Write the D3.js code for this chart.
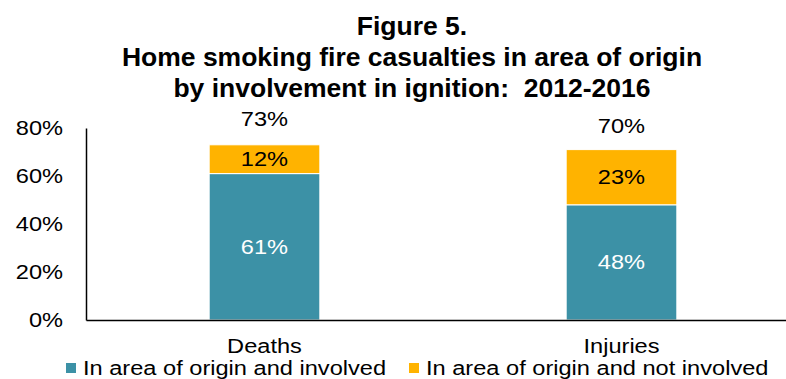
<!DOCTYPE html>
<html>
<head>
<meta charset="utf-8">
<script src="https://cdn.jsdelivr.net/npm/d3@7"></script>
<style>
html,body{margin:0;padding:0;background:#fff;}
svg{display:block;font-family:"Liberation Sans",Arial,sans-serif;}
</style>
</head>
<body>
<svg id="chart" width="786" height="379"></svg>
<script>
const categories = ["Deaths", "Injuries"];
const seriesNames = ["In area of origin and involved", "In area of origin and not involved"];
const involved = [61, 48];
const notInvolved = [12, 23];
const totals = [73, 70];
const yTicks = [0, 20, 40, 60, 80];
const titleLines = ["Figure 5.", "Home smoking fire casualties in area of origin", "by involvement in ignition:  2012-2016"];
const colors = ["#3C91A6", "#FFB300"];

const svg = d3.select("#chart");
const STRETCH = 1.18;
function stretch(sel, f) {
  sel.each(function() {
    const w = this.getComputedTextLength();
    d3.select(this).attr("textLength", w * f).attr("lengthAdjust", "spacingAndGlyphs");
  });
}

const x = d3.scaleBand().domain(categories).range([86, 800]).paddingInner(0.69).paddingOuter(0.345);
const y = d3.scaleLinear().domain([0, 80]).range([320, 128]);

// title
const title = svg.append("text").attr("text-anchor", "middle").attr("font-weight", "bold")
  .attr("font-size", 26.5).attr("fill", "#000").style("white-space", "pre");
titleLines.forEach((t, i) => {
  title.append("tspan").attr("x", 412).attr("y", 35 + i * 31).style("white-space", "pre").text(t);
});

// y axis
const yAxis = svg.append("g").attr("transform", "translate(86,0)")
  .call(d3.axisLeft(y).tickValues(yTicks).tickFormat(d => d + "%").tickSize(0).tickPadding(23));
yAxis.select(".domain").attr("stroke", "#000").attr("stroke-width", 1.5);
yAxis.selectAll("text").attr("font-size", 20).attr("fill", "#000")
  .attr("font-family", "Liberation Sans, Arial, sans-serif").call(stretch, STRETCH);

// stacked data
const rows = categories.map((c, i) => ({cat: c, a: involved[i], b: notInvolved[i], total: totals[i]}));
const stack = d3.stack().keys(["a", "b"])(rows);

stack.forEach((layer, li) => {
  svg.append("g").selectAll("rect").data(layer).join("rect")
    .attr("x", d => x(d.data.cat))
    .attr("width", x.bandwidth())
    .attr("y", d => y(d[1]))
    .attr("height", d => y(d[0]) - y(d[1]))
    .attr("fill", colors[li])
    .attr("stroke", "#fff").attr("stroke-width", 1);
  svg.append("g").selectAll("text").data(layer).join("text")
    .attr("x", d => x(d.data.cat) + x.bandwidth() / 2)
    .attr("y", d => (y(d[0]) + y(d[1])) / 2)
    .attr("dy", "0.35em")
    .attr("text-anchor", "middle")
    .attr("font-size", 20)
    .attr("fill", li === 0 ? "#fff" : "#000")
    .text(d => (d[1] - d[0]) + "%")
    .call(stretch, STRETCH);
});

// totals
svg.append("g").selectAll("text").data(rows).join("text")
  .attr("x", d => x(d.cat) + x.bandwidth() / 2)
  .attr("y", d => y(d.total) - 26)
  .attr("dy", "0.35em")
  .attr("text-anchor", "middle")
  .attr("font-size", 20)
  .attr("fill", "#000")
  .text(d => d.total + "%")
  .call(stretch, STRETCH);

// x axis baseline
const xAxis = svg.append("g").attr("transform", "translate(0,320)")
  .call(d3.axisBottom(x).tickSize(0).tickPadding(19));
xAxis.select(".domain").attr("stroke", "#000").attr("stroke-width", 1.5);
xAxis.selectAll("text").attr("font-size", 20).attr("fill", "#000")
  .attr("font-family", "Liberation Sans, Arial, sans-serif").call(stretch, STRETCH);

// legend
const legendX = [66, 409];
const leg = svg.append("g");
seriesNames.forEach((s, i) => {
  leg.append("rect").attr("x", legendX[i]).attr("y", 363).attr("width", 10).attr("height", 10).attr("fill", colors[i]);
  leg.append("text").attr("x", legendX[i] + 17).attr("y", 375).attr("font-size", 20).attr("fill", "#000").text(s)
    .call(stretch, STRETCH);
});
</script>
</body>
</html>
